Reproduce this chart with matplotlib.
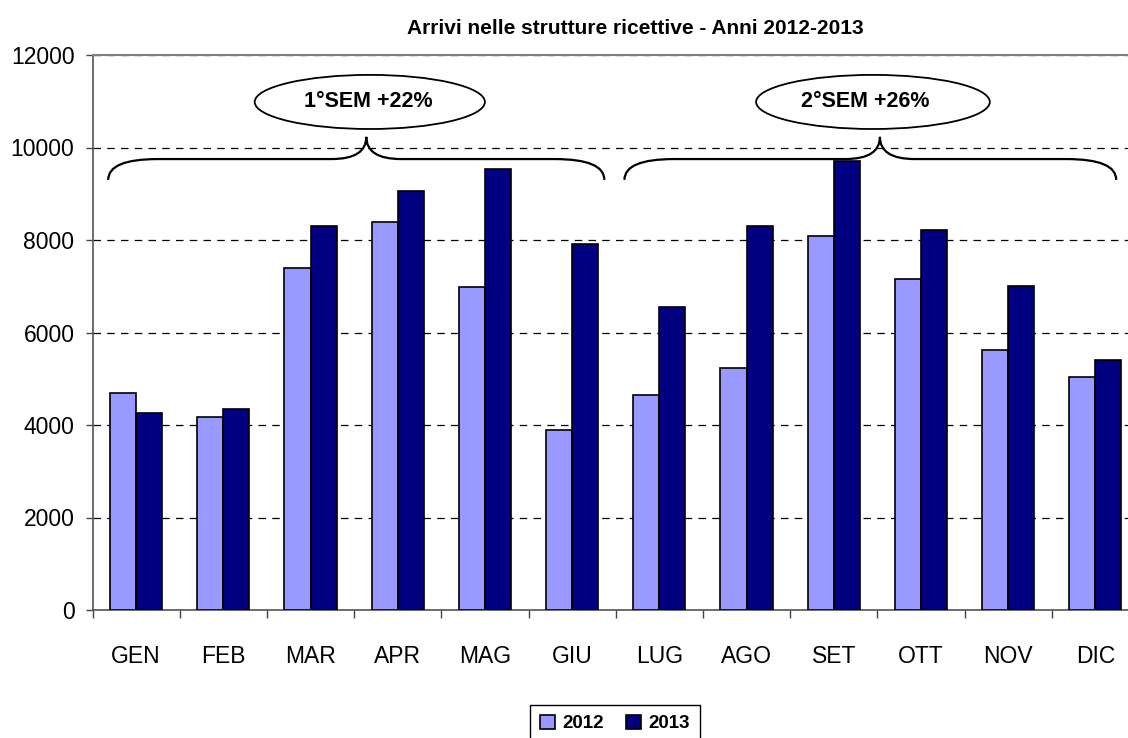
import matplotlib
matplotlib.use('Agg')
import matplotlib.pyplot as plt
import numpy as np
from matplotlib.patches import Ellipse, Rectangle, PathPatch
from matplotlib.path import Path

plt.rcParams['font.family'] = ['Liberation Sans', 'DejaVu Sans']

mesi = ['GEN', 'FEB', 'MAR', 'APR', 'MAG', 'GIU', 'LUG', 'AGO', 'SET', 'OTT', 'NOV', 'DIC']
arrivi_2012 = [4700, 4170, 7390, 8400, 6990, 3900, 4645, 5225, 8090, 7165, 5620, 5045]
arrivi_2013 = [4260, 4340, 8300, 9050, 9535, 7915, 6545, 8300, 9715, 8215, 7000, 5405]
anni = ['2012', '2013']
colori = ['#9999FF', '#000080']
semestri = ['1°SEM +22%', '2°SEM +26%']

fig = plt.figure(figsize=(11.28, 7.38), dpi=100)
# plot area in pixels: left 92.5, bottom 610 (from top), top 55
ax = fig.add_axes([92.5 / 1128, 128 / 738, 12 * 87.2 / 1128, 555 / 738])

x = np.arange(len(mesi))
w = 0.3
ax.bar(x - w / 2, arrivi_2012, w, color=colori[0], edgecolor='black', linewidth=1.2, zorder=3)
ax.bar(x + w / 2, arrivi_2013, w, color=colori[1], edgecolor='black', linewidth=1.2, zorder=3)

ax.set_xlim(-0.5, len(mesi) - 0.5)
ax.set_ylim(0, 12000)
ax.set_yticks(range(0, 12001, 2000))
ax.yaxis.grid(True, linestyle=(0, (6, 5)), color='black', linewidth=0.9)
ax.set_axisbelow(True)

ax.set_xticks(x)
ax.set_xticklabels(mesi, fontsize=16.5)
ax.set_xticks(np.arange(-0.5, len(mesi)), minor=True)
ax.tick_params(axis='x', which='major', length=0, pad=25)
ax.tick_params(axis='x', which='minor', length=6, width=1, color='#444444', direction='out')
ax.tick_params(axis='y', labelsize=16.5, length=5, width=1, color='#444444', pad=8)

for s in ['top', 'right']:
    ax.spines[s].set_color('#808080')
    ax.spines[s].set_linewidth(1.5)
ax.spines['left'].set_color('#555555')
ax.spines['bottom'].set_color('#555555')
ax.spines['left'].set_linewidth(1.2)
ax.spines['bottom'].set_linewidth(1.2)


def graffa(ax, x0, x1, xp, yb, yf, yp, re, rm):
    verts = [(x0, yb), (x0, yf), (x0 + re, yf), (xp - rm, yf), (xp, yf), (xp, yp),
             (xp, yp), (xp, yf), (xp + rm, yf), (x1 - re, yf), (x1, yf), (x1, yb)]
    codes = [Path.MOVETO, Path.CURVE3, Path.CURVE3, Path.LINETO, Path.CURVE3, Path.CURVE3,
             Path.MOVETO, Path.CURVE3, Path.CURVE3, Path.LINETO, Path.CURVE3, Path.CURVE3]
    ax.add_patch(PathPatch(Path(verts, codes), facecolor='none', edgecolor='black',
                           linewidth=1.6, clip_on=False, zorder=5))


graffa(ax, -0.32, 5.37, 2.64, 9300, 9750, 10230, 0.57, 0.4)
graffa(ax, 5.6, 11.24, 8.53, 9300, 9750, 10230, 0.57, 0.4)

for cx, tx, ew, testo in [(2.68, 2.66, 2.64, semestri[0]), (8.45, 8.36, 2.68, semestri[1])]:
    ax.add_patch(Ellipse((cx, 10985), ew, 1170, facecolor='white', edgecolor='black',
                         linewidth=1.3, clip_on=False, zorder=5))
    ax.text(tx, 10985, testo, ha='center', va='center', fontsize=15.5, fontweight='bold', zorder=6)

fig.text(0.563, 0.962, 'Arrivi nelle strutture ricettive - Anni 2012-2013',
         ha='center', va='center', fontsize=15, fontweight='bold')

handles = [Rectangle((0, 0), 1, 1, facecolor=c, edgecolor='black', linewidth=1.2) for c in colori]
leg = fig.legend(handles, anni, loc='upper center', bbox_to_anchor=(615 / 1128, 1 - 696 / 738),
                 ncol=2, frameon=True, fancybox=False, edgecolor='black', framealpha=1,
                 prop={'weight': 'bold', 'size': 13.5}, handlelength=0.8, handleheight=0.8,
                 columnspacing=1.2, handletextpad=0.4, borderpad=0.5)
leg.get_frame().set_linewidth(1.0)

fig.savefig('out.png', dpi=100)
